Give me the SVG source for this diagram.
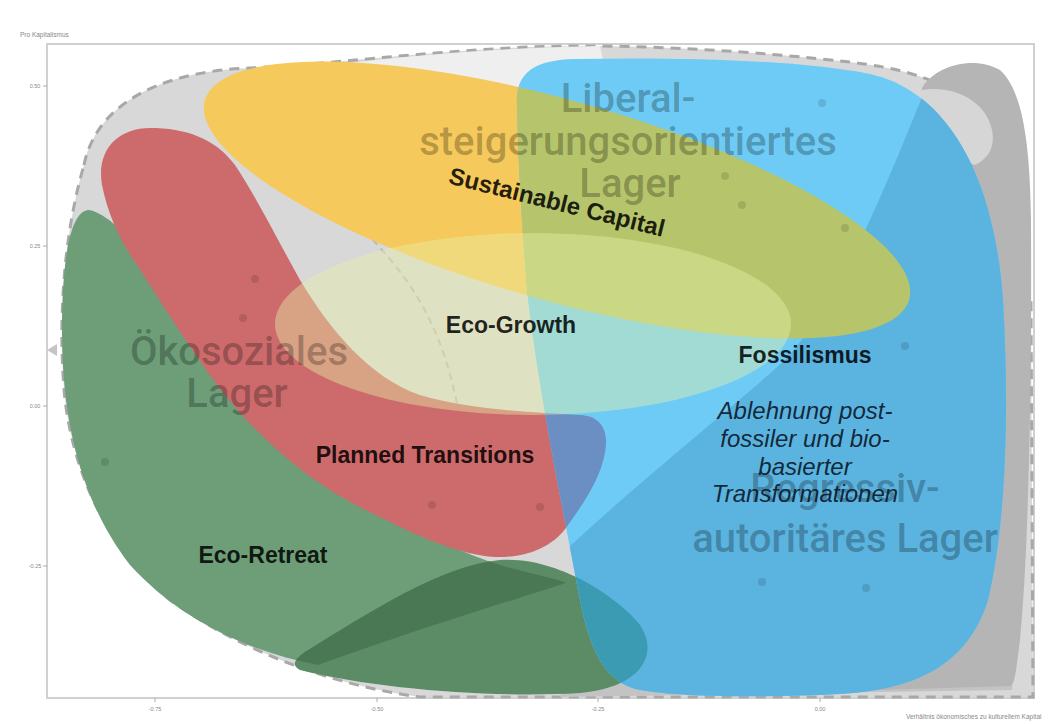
<svg xmlns="http://www.w3.org/2000/svg" width="1053" height="724" viewBox="0 0 1053 724">
<style>
.lab{font-family:"Liberation Sans",Arial,sans-serif;font-weight:bold;font-size:23px;fill:#000;fill-opacity:.86;text-anchor:middle}
.it{font-family:"Liberation Sans",Arial,sans-serif;font-style:italic;font-size:24px;fill:#0a1525;fill-opacity:.9;text-anchor:middle}
.big{font-family:Roboto,"Liberation Sans",sans-serif;font-weight:500;font-size:40px;fill:#000;fill-opacity:.27;text-anchor:middle}
.ax{font-family:"Liberation Sans",Arial,sans-serif;font-size:6.5px;fill:#888}
.tick{font-family:"Liberation Sans",Arial,sans-serif;font-size:5.5px;fill:#888;text-anchor:middle}
.dot{fill:#000;fill-opacity:.12}
</style>
<defs>
<path id="pHull" d="M84,165 C95,110 150,72 250,68 C330,64 420,52 530,47 C640,43 760,52 850,62 C900,68 930,78 945,88 L1000,200 L1031,300 L1033,697 L420,697 C330,685 240,650 170,600 C110,550 75,480 65,400 C58,330 62,240 84,165 Z"/>
<path id="pGreenMain" d="M88,210 C115,212 170,280 230,370 C300,470 420,540 500,565 C530,574 555,578 566,583 C520,598 420,628 318,665 C250,652 180,620 130,565 C80,500 62,420 62,330 C62,260 70,212 88,210 Z"/>
<path id="pGreenLow" d="M305,652 C370,612 440,566 500,560 C560,556 620,600 640,625 C660,655 640,688 580,693 C500,698 380,690 300,670 C290,665 296,658 305,652 Z"/>
<path id="pRed" d="M150,128 C118,128 96,150 102,185 C108,215 120,240 135,262 C160,300 190,350 225,395 C270,450 320,490 380,517 C420,537 460,555 495,557 C530,558 555,545 568,525 C590,495 604,470 606,445 C607,425 597,416 580,415 C530,412 470,410 420,395 C370,378 330,330 300,280 C275,235 255,195 235,165 C215,138 185,128 150,128 Z"/>
<ellipse id="pYellow" cx="557" cy="200" rx="366" ry="100" transform="rotate(15.8 557 200)"/>
<path id="pBlue" d="M517,105 C515,72 535,60 575,59 C680,57 800,60 870,74 C950,92 995,180 1003,300 C1010,420 1005,530 988,600 C968,665 915,690 840,694 C760,698 680,697 640,690 C605,683 590,650 580,600 C565,520 540,400 528,300 C522,230 518,160 517,105 Z"/>
<clipPath id="cBlue"><use href="#pBlue"/></clipPath>
<clipPath id="cYellow"><use href="#pYellow"/></clipPath>
<clipPath id="cGreenMain"><use href="#pGreenMain"/></clipPath>
</defs>
<rect width="1053" height="724" fill="#fff"/>
<g id="axes">
<rect x="47" y="44" width="987" height="654" fill="none" stroke="#d0d0d0" stroke-width="2"/>
<path d="M43,86H47M43,246H47M43,406H47M43,566H47M155,698V702M377,698V702M598,698V702M820,698V702" stroke="#aaa" stroke-width="1"/>
<text class="ax" x="20" y="37">Pro Kapitalismus</text>
<text class="ax" x="906" y="719">Verhältnis ökonomisches zu kulturellem Kapital</text>
<text class="tick" x="35" y="88">0.50</text>
<text class="tick" x="35" y="248">0.25</text>
<text class="tick" x="35" y="408">0.00</text>
<text class="tick" x="35" y="568">-0.25</text>
<text class="tick" x="155" y="711">-0.75</text>
<text class="tick" x="377" y="711">-0.50</text>
<text class="tick" x="598" y="711">-0.25</text>
<text class="tick" x="820" y="711">0.00</text>
<polygon points="47,350 57,344 57,356" fill="#c4c4c4"/>
</g>
<g id="background-hulls">
<use href="#pHull" fill="#d8d8d8" stroke="#a8a8a8" stroke-width="3" stroke-dasharray="10 7"/>
<path d="M300,70 C400,55 500,48 600,46 L620,140 L300,120 Z" fill="#efefef"/>
<path d="M600,600 L1015,640 L1012,690 L560,697 Z" fill="#c3c3c3"/>
<path d="M922,88 C935,65 975,55 1000,70 C1022,90 1030,140 1031,220 C1032,400 1028,560 1020,640 C1016,670 1015,685 1010,686 L880,690 L900,300 Z" fill="#b5b5b5"/>
<path d="M922,90 C950,85 985,98 992,130 C996,150 985,160 975,165 L905,140 Z" fill="#d6d6d6"/>
<path d="M345,64 C305,90 300,160 350,215 C390,260 440,300 460,420" fill="none" stroke="#9a9a9a" stroke-opacity=".5" stroke-width="2" stroke-dasharray="7 5"/>
</g>
<g id="eco-retreat">
<use href="#pGreenMain" fill="#6d9e78"/>
<use href="#pGreenLow" fill="#5c8c66"/>
<use href="#pGreenLow" fill="#4a7855" clip-path="url(#cGreenMain)"/>
</g>
<g id="planned-transitions">
<use href="#pRed" fill="#cd6b6c"/>
</g>
<g id="sustainable-capital">
<use href="#pYellow" fill="#f5c95b"/>
<use href="#pRed" fill="#e5985c" clip-path="url(#cYellow)"/>
</g>
<g id="fossilismus">
<use href="#pBlue" fill="#6ecbf5"/>
<path d="M555,560 C640,480 730,410 785,360 C840,300 880,200 925,90 L1040,90 L1040,710 L540,710 Z" fill="#5bb3df" clip-path="url(#cBlue)"/>
<use href="#pYellow" fill="#b6c56b" clip-path="url(#cBlue)"/>
<use href="#pRed" fill="#6b8ec3" clip-path="url(#cBlue)"/>
<use href="#pGreenLow" fill="#3b9bb2" clip-path="url(#cBlue)"/>
</g>
<g id="eco-growth">
<ellipse cx="533" cy="324" rx="258" ry="91" fill="#e8f0a8" fill-opacity=".42"/>
</g>
<g id="camp-labels">
<text class="big" x="628" y="112">Liberal-</text>
<text class="big" x="628" y="155">steigerungsorientiertes</text>
<text class="big" x="630" y="197">Lager</text>
<text class="big" x="239" y="365">Ökosoziales</text>
<text class="big" x="237" y="407">Lager</text>
<text class="big" x="845" y="502">Regressiv-</text>
<text class="big" x="845" y="552">autoritäres Lager</text>
</g>
<g id="points">
<circle class="dot" cx="255" cy="279" r="4"/>
<circle class="dot" cx="243" cy="318" r="4"/>
<circle class="dot" cx="105" cy="462" r="4"/>
<circle class="dot" cx="432" cy="505" r="4"/>
<circle class="dot" cx="540" cy="507" r="4"/>
<circle class="dot" cx="725" cy="176" r="4"/>
<circle class="dot" cx="742" cy="205" r="4"/>
<circle class="dot" cx="845" cy="228" r="4"/>
<circle class="dot" cx="905" cy="346" r="4"/>
<circle class="dot" cx="762" cy="582" r="4"/>
<circle class="dot" cx="866" cy="588" r="4"/>
<circle class="dot" cx="822" cy="103" r="4"/>
</g>
<g id="labels">
<text class="lab" transform="rotate(14 555 210)" x="555" y="210" style="font-size:24px">Sustainable Capital</text>
<text class="lab" x="511" y="333">Eco-Growth</text>
<text class="lab" x="805" y="363">Fossilismus</text>
<text class="lab" x="425" y="463">Planned Transitions</text>
<text class="lab" x="263" y="563">Eco-Retreat</text>
<text class="it" x="805" y="419">Ablehnung post-</text>
<text class="it" x="805" y="447">fossiler und bio-</text>
<text class="it" x="805" y="475">basierter</text>
<text class="it" x="805" y="502">Transformationen</text>
</g>
</svg>
